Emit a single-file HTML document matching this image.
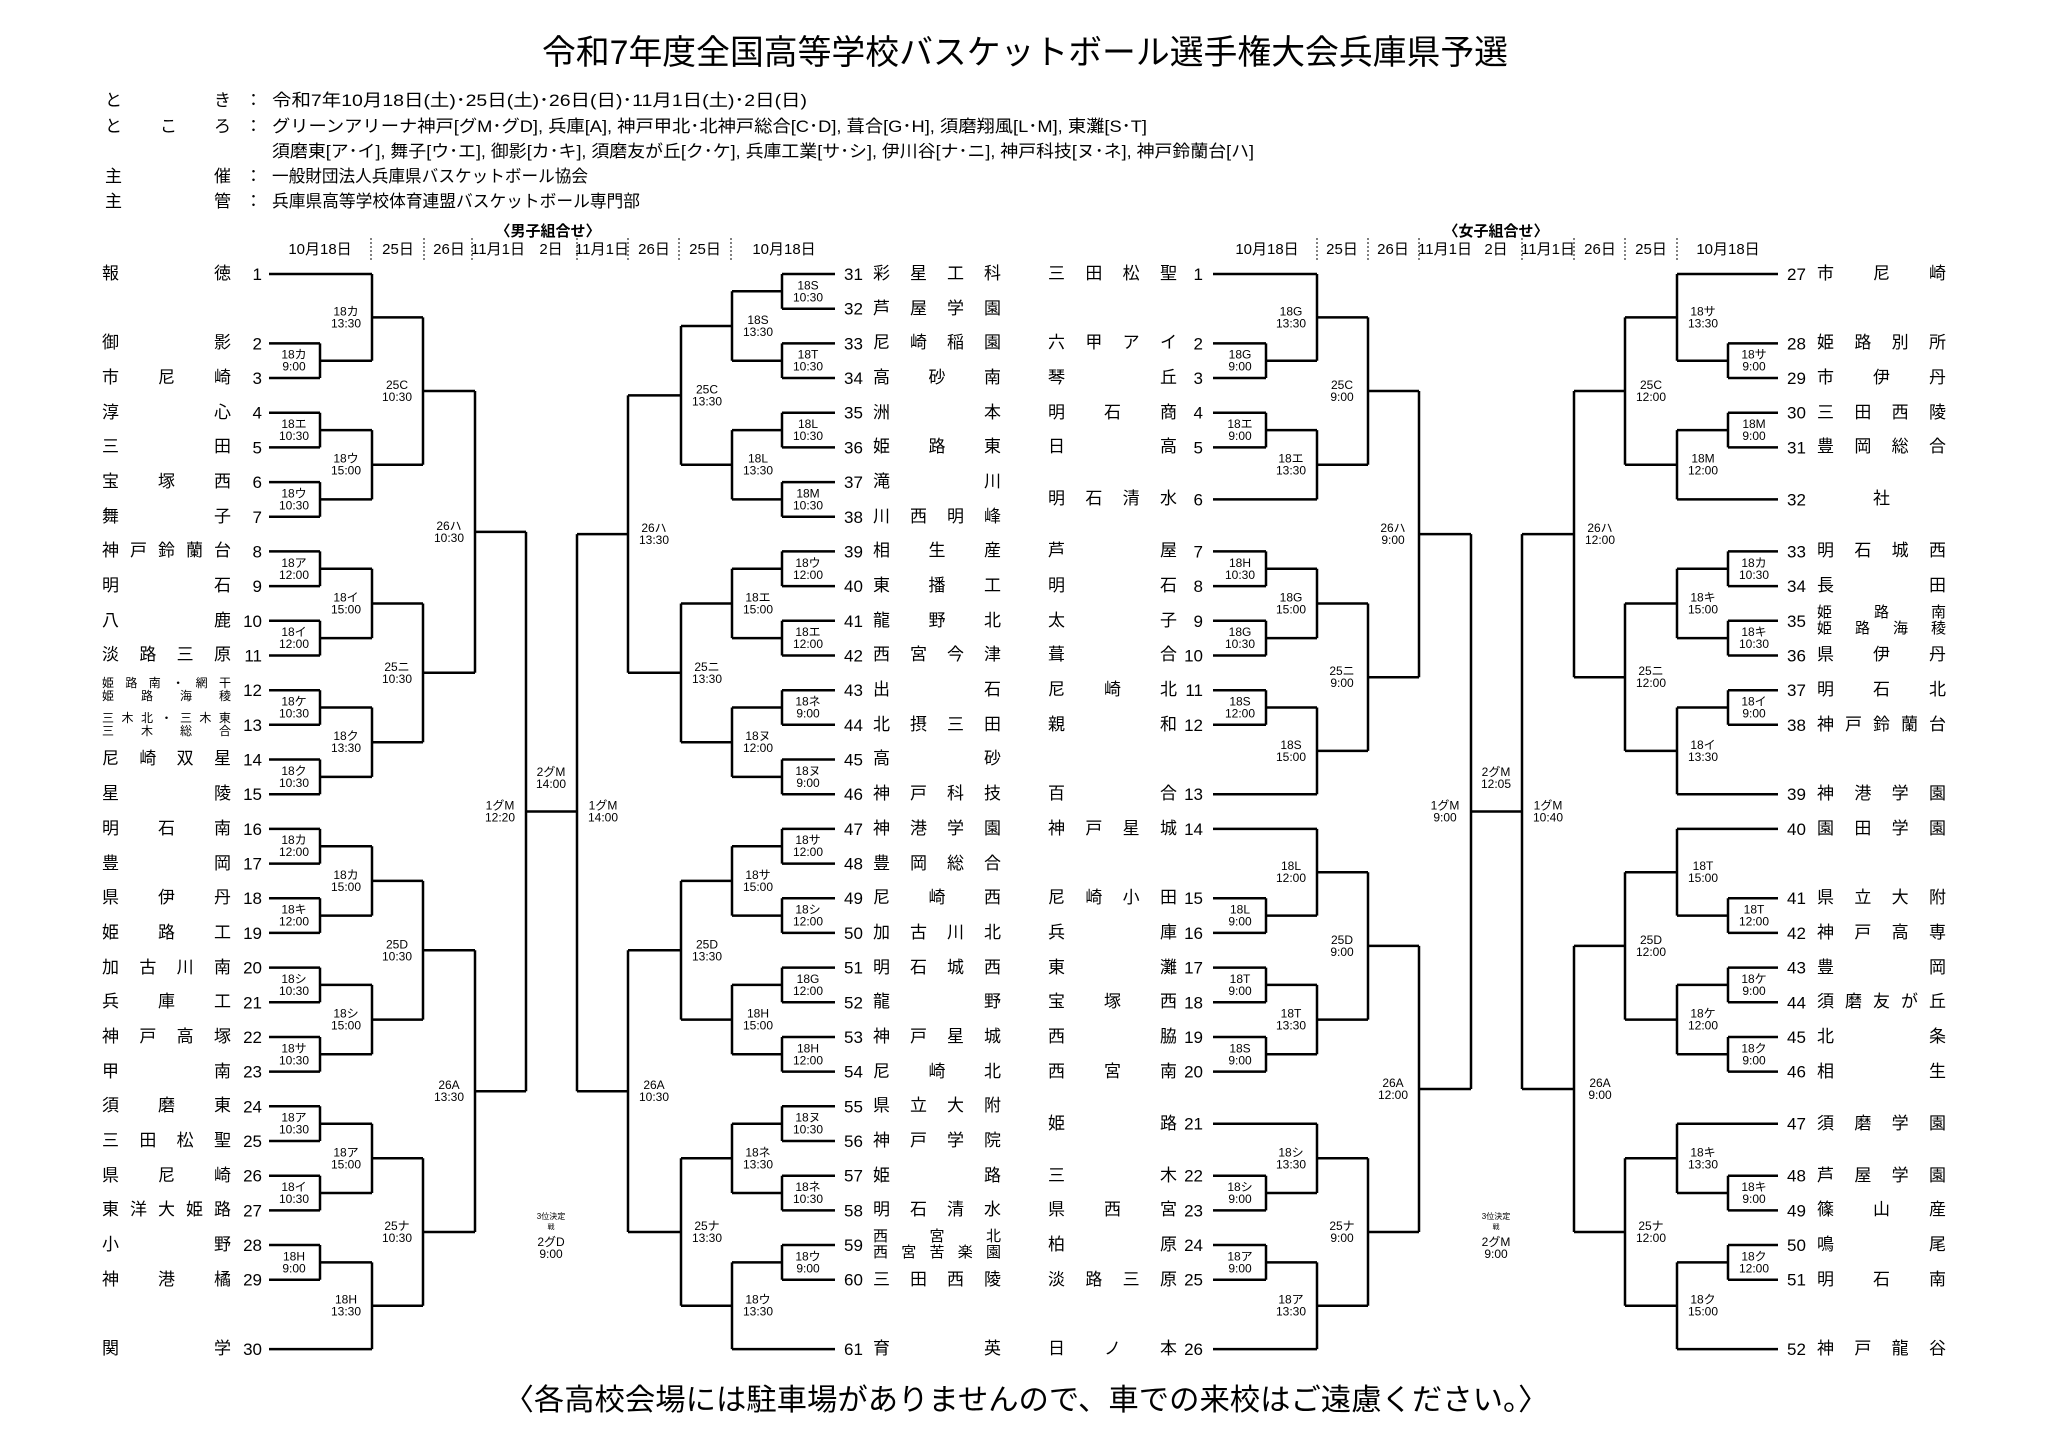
<!DOCTYPE html>
<html><head><meta charset="utf-8"><style>
body{margin:0;background:#fff;width:2048px;height:1449px;position:relative;overflow:hidden;font-family:"Liberation Sans","Noto Sans CJK JP",sans-serif;color:#000}
svg{position:absolute;left:0;top:0}
.n{position:absolute;display:flex;justify-content:space-between;font-size:17px;line-height:17px;height:17px;white-space:nowrap}
.c{justify-content:center}
.ml{left:102px;width:129px}.mr{left:873px;width:128px}.wl{left:1048px;width:129px}.wr{left:1817px;width:129px}
.n2{position:absolute;font-size:12px;line-height:13px}
.n2 div{display:flex;justify-content:space-between}
.w2{font-size:15px;line-height:16px}
.l{font-size:12px;text-anchor:middle}
.num{font-size:17px}
.e{text-anchor:end}
.d{font-size:15px;text-anchor:middle}
</style></head><body>
<svg width="2048" height="1449" viewBox="0 0 2048 1449" font-family="Liberation Sans, Noto Sans CJK JP, sans-serif">
<text x="1025" y="64" font-size="34" text-anchor="middle" textLength="966" lengthAdjust="spacingAndGlyphs">令和7年度全国高等学校バスケットボール選手権大会兵庫県予選</text>
<g font-size="17">
<text x="105" y="106">と</text><text x="214" y="106">き</text><text x="245" y="106">：</text>
<text x="272" y="106" textLength="535" lengthAdjust="spacingAndGlyphs">令和7年10月18日(土)･25日(土)･26日(日)･11月1日(土)･2日(日)</text>
<text x="105" y="132">と</text><text x="160" y="132">こ</text><text x="214" y="132">ろ</text><text x="245" y="132">：</text>
<text x="272" y="132" textLength="875" lengthAdjust="spacingAndGlyphs">グリーンアリーナ神戸[グM･グD], 兵庫[A], 神戸甲北･北神戸総合[C･D], 葺合[G･H], 須磨翔風[L･M], 東灘[S･T]</text>
<text x="272" y="157" textLength="982" lengthAdjust="spacingAndGlyphs">須磨東[ア･イ], 舞子[ウ･エ], 御影[カ･キ], 須磨友が丘[ク･ケ], 兵庫工業[サ･シ], 伊川谷[ナ･ニ], 神戸科技[ヌ･ネ], 神戸鈴蘭台[ハ]</text>
<text x="105" y="182">主</text><text x="214" y="182">催</text><text x="245" y="182">：</text>
<text x="272" y="182" textLength="316" lengthAdjust="spacingAndGlyphs">一般財団法人兵庫県バスケットボール協会</text>
<text x="105" y="207">主</text><text x="214" y="207">管</text><text x="245" y="207">：</text>
<text x="272" y="207" textLength="368" lengthAdjust="spacingAndGlyphs">兵庫県高等学校体育連盟バスケットボール専門部</text>
</g>
<text x="548" y="236" font-size="15" font-weight="bold" text-anchor="middle">〈男子組合せ〉</text>
<text x="1496" y="236" font-size="15" font-weight="bold" text-anchor="middle">〈女子組合せ〉</text>
<g class="d">
<text class="d" x="320" y="254">10月18日</text><text class="d" x="398" y="254">25日</text><text class="d" x="449" y="254">26日</text><text class="d" x="498" y="254">11月1日</text><text class="d" x="551" y="254">2日</text><text class="d" x="602" y="254">11月1日</text><text class="d" x="654" y="254">26日</text><text class="d" x="705" y="254">25日</text><text class="d" x="784" y="254">10月18日</text>
<text class="d" x="1267" y="254">10月18日</text><text class="d" x="1342" y="254">25日</text><text class="d" x="1393" y="254">26日</text><text class="d" x="1445" y="254">11月1日</text><text class="d" x="1496" y="254">2日</text><text class="d" x="1548" y="254">11月1日</text><text class="d" x="1600" y="254">26日</text><text class="d" x="1651" y="254">25日</text><text class="d" x="1728" y="254">10月18日</text>
</g>
<path stroke="#000" stroke-width="1" stroke-dasharray="2,2" d="M371 238V260M424 238V260M472 238V260M577 238V260M628 238V260M679 238V260M731 238V260M1317 238V260M1368 238V260M1419 238V260M1522 238V260M1574 238V260M1625 238V260M1677 238V260"/>

<g fill="none" stroke="#000" stroke-width="2.5">
<!-- men left -->
<path d="M269 274H372M269 343.4H320M269 378H320M269 412.7H320M269 447.4H320M269 482.1H320M269 516.8H320M269 551.4H320M269 586.1H320M269 620.8H320M269 655.5H320M269 690.2H320M269 724.8H320M269 759.5H320M269 794.2H320M269 828.9H320M269 863.6H320M269 898.2H320M269 932.9H320M269 967.6H320M269 1002.3H320M269 1037H320M269 1071.6H320M269 1106.3H320M269 1141H320M269 1175.7H320M269 1210.4H320M269 1245H320M269 1279.7H320M269 1349.1H372
M320 343.4V378M320 360.7H372M320 412.7V447.4M320 430.1H372M320 482.1V516.8M320 499.4H372M320 551.4V586.1M320 568.8H372M320 620.8V655.5M320 638.1H372M320 690.2V724.8M320 707.5H372M320 759.5V794.2M320 776.9H372M320 828.9V863.6M320 846.2H372M320 898.2V932.9M320 915.6H372M320 967.6V1002.3M320 984.9H372M320 1037V1071.6M320 1054.3H372M320 1106.3V1141M320 1123.7H372M320 1175.7V1210.4M320 1193H372M320 1245V1279.7M320 1262.4H372
M372 274V360.7M372 317.4H423M372 430.1V499.4M372 464.7H423M372 568.8V638.1M372 603.5H423M372 707.5V776.9M372 742.2H423M372 846.2V915.6M372 880.9H423M372 984.9V1054.3M372 1019.6H423M372 1123.7V1193M372 1158.3H423M372 1262.4V1349.1M372 1305.7H423
M423 317.4V464.7M423 391H475M423 603.5V742.2M423 672.8H475M423 880.9V1019.6M423 950.3H475M423 1158.3V1305.7M423 1232H475
M475 391V672.8M475 531.9H526M475 950.3V1232M475 1091.2H526
M526 531.9V1091.2M526 811.5H577"/>
<!-- men right -->
<path d="M835 274H782M835 308.7H782M835 343.4H782M835 378H782M835 412.7H782M835 447.4H782M835 482.1H782M835 516.8H782M835 551.4H782M835 586.1H782M835 620.8H782M835 655.5H782M835 690.2H782M835 724.8H782M835 759.5H782M835 794.2H782M835 828.9H782M835 863.6H782M835 898.2H782M835 932.9H782M835 967.6H782M835 1002.3H782M835 1037H782M835 1071.6H782M835 1106.3H782M835 1141H782M835 1175.7H782M835 1210.4H782M835 1245H782M835 1279.7H782M835 1349.1H732
M782 274V308.7M782 291.3H732M782 343.4V378M782 360.7H732M782 412.7V447.4M782 430.1H732M782 482.1V516.8M782 499.4H732M782 551.4V586.1M782 568.8H732M782 620.8V655.5M782 638.1H732M782 690.2V724.8M782 707.5H732M782 759.5V794.2M782 776.9H732M782 828.9V863.6M782 846.2H732M782 898.2V932.9M782 915.6H732M782 967.6V1002.3M782 984.9H732M782 1037V1071.6M782 1054.3H732M782 1106.3V1141M782 1123.7H732M782 1175.7V1210.4M782 1193H732M782 1245V1279.7M782 1262.4H732
M732 291.3V360.7M732 326H681M732 430.1V499.4M732 464.7H681M732 568.8V638.1M732 603.5H681M732 707.5V776.9M732 742.2H681M732 846.2V915.6M732 880.9H681M732 984.9V1054.3M732 1019.6H681M732 1123.7V1193M732 1158.3H681M732 1262.4V1349.1M732 1305.7H681
M681 326V464.7M681 395.4H628M681 603.5V742.2M681 672.8H628M681 880.9V1019.6M681 950.3H628M681 1158.3V1305.7M681 1232H628
M628 395.4V672.8M628 534.1H577M628 950.3V1232M628 1091.2H577
M577 534.1V1091.2"/>
<!-- women left -->
<path d="M1213 274H1317M1213 343.4H1266M1213 378H1266M1213 412.7H1266M1213 447.4H1266M1213 499.4H1317M1213 551.4H1266M1213 586.1H1266M1213 620.8H1266M1213 655.5H1266M1213 690.2H1266M1213 724.8H1266M1213 794.2H1317M1213 828.9H1317M1213 898.2H1266M1213 932.9H1266M1213 967.6H1266M1213 1002.3H1266M1213 1037H1266M1213 1071.6H1266M1213 1123.7H1317M1213 1175.7H1266M1213 1210.4H1266M1213 1245H1266M1213 1279.7H1266M1213 1349.1H1317
M1266 343.4V378M1266 360.7H1317M1266 412.7V447.4M1266 430.1H1317M1266 551.4V586.1M1266 568.8H1317M1266 620.8V655.5M1266 638.1H1317M1266 690.2V724.8M1266 707.5H1317M1266 898.2V932.9M1266 915.6H1317M1266 967.6V1002.3M1266 984.9H1317M1266 1037V1071.6M1266 1054.3H1317M1266 1175.7V1210.4M1266 1193H1317M1266 1245V1279.7M1266 1262.4H1317
M1317 274V360.7M1317 317.4H1368M1317 430.1V499.4M1317 464.7H1368M1317 568.8V638.1M1317 603.5H1368M1317 707.5V794.2M1317 750.9H1368M1317 828.9V915.6M1317 872.2H1368M1317 984.9V1054.3M1317 1019.6H1368M1317 1123.7V1193M1317 1158.3H1368M1317 1262.4V1349.1M1317 1305.7H1368
M1368 317.4V464.7M1368 391H1419M1368 603.5V750.9M1368 677.2H1419M1368 872.2V1019.6M1368 945.9H1419M1368 1158.3V1305.7M1368 1232H1419
M1419 391V677.2M1419 534.1H1471M1419 945.9V1232M1419 1089H1471
M1471 534.1V1089M1471 811.5H1522"/>
<!-- women right -->
<path d="M1778 274H1677M1778 343.4H1728M1778 378H1728M1778 412.7H1728M1778 447.4H1728M1778 499.4H1677M1778 551.4H1728M1778 586.1H1728M1778 620.8H1728M1778 655.5H1728M1778 690.2H1728M1778 724.8H1728M1778 794.2H1677M1778 828.9H1677M1778 898.2H1728M1778 932.9H1728M1778 967.6H1728M1778 1002.3H1728M1778 1037H1728M1778 1071.6H1728M1778 1123.7H1677M1778 1175.7H1728M1778 1210.4H1728M1778 1245H1728M1778 1279.7H1728M1778 1349.1H1677
M1728 343.4V378M1728 360.7H1677M1728 412.7V447.4M1728 430.1H1677M1728 551.4V586.1M1728 568.8H1677M1728 620.8V655.5M1728 638.1H1677M1728 690.2V724.8M1728 707.5H1677M1728 898.2V932.9M1728 915.6H1677M1728 967.6V1002.3M1728 984.9H1677M1728 1037V1071.6M1728 1054.3H1677M1728 1175.7V1210.4M1728 1193H1677M1728 1245V1279.7M1728 1262.4H1677
M1677 274V360.7M1677 317.4H1625M1677 430.1V499.4M1677 464.7H1625M1677 568.8V638.1M1677 603.5H1625M1677 707.5V794.2M1677 750.9H1625M1677 828.9V915.6M1677 872.2H1625M1677 984.9V1054.3M1677 1019.6H1625M1677 1123.7V1193M1677 1158.3H1625M1677 1262.4V1349.1M1677 1305.7H1625
M1625 317.4V464.7M1625 391H1574M1625 603.5V750.9M1625 677.2H1574M1625 872.2V1019.6M1625 945.9H1574M1625 1158.3V1305.7M1625 1232H1574
M1574 391V677.2M1574 534.1H1522M1574 945.9V1232M1574 1089H1522
M1522 534.1V1089"/>
</g>

<!-- numbers -->
<g class="num">
<g text-anchor="end">
<text x="262" y="280">1</text><text x="262" y="349.4">2</text><text x="262" y="384">3</text><text x="262" y="418.7">4</text><text x="262" y="453.4">5</text><text x="262" y="488.1">6</text><text x="262" y="522.8">7</text><text x="262" y="557.4">8</text><text x="262" y="592.1">9</text><text x="262" y="626.8">10</text><text x="262" y="661.5">11</text><text x="262" y="696.2">12</text><text x="262" y="730.8">13</text><text x="262" y="765.5">14</text><text x="262" y="800.2">15</text><text x="262" y="834.9">16</text><text x="262" y="869.6">17</text><text x="262" y="904.2">18</text><text x="262" y="938.9">19</text><text x="262" y="973.6">20</text><text x="262" y="1008.3">21</text><text x="262" y="1043">22</text><text x="262" y="1077.6">23</text><text x="262" y="1112.3">24</text><text x="262" y="1147">25</text><text x="262" y="1181.7">26</text><text x="262" y="1216.4">27</text><text x="262" y="1251">28</text><text x="262" y="1285.7">29</text><text x="262" y="1355.1">30</text>
<text x="1203" y="280">1</text><text x="1203" y="349.4">2</text><text x="1203" y="384">3</text><text x="1203" y="418.7">4</text><text x="1203" y="453.4">5</text><text x="1203" y="505.4">6</text><text x="1203" y="557.4">7</text><text x="1203" y="592.1">8</text><text x="1203" y="626.8">9</text><text x="1203" y="661.5">10</text><text x="1203" y="696.2">11</text><text x="1203" y="730.8">12</text><text x="1203" y="800.2">13</text><text x="1203" y="834.9">14</text><text x="1203" y="904.2">15</text><text x="1203" y="938.9">16</text><text x="1203" y="973.6">17</text><text x="1203" y="1008.3">18</text><text x="1203" y="1043">19</text><text x="1203" y="1077.6">20</text><text x="1203" y="1129.7">21</text><text x="1203" y="1181.7">22</text><text x="1203" y="1216.4">23</text><text x="1203" y="1251">24</text><text x="1203" y="1285.7">25</text><text x="1203" y="1355.1">26</text>
</g>
<text x="844" y="280">31</text><text x="844" y="314.7">32</text><text x="844" y="349.4">33</text><text x="844" y="384">34</text><text x="844" y="418.7">35</text><text x="844" y="453.4">36</text><text x="844" y="488.1">37</text><text x="844" y="522.8">38</text><text x="844" y="557.4">39</text><text x="844" y="592.1">40</text><text x="844" y="626.8">41</text><text x="844" y="661.5">42</text><text x="844" y="696.2">43</text><text x="844" y="730.8">44</text><text x="844" y="765.5">45</text><text x="844" y="800.2">46</text><text x="844" y="834.9">47</text><text x="844" y="869.6">48</text><text x="844" y="904.2">49</text><text x="844" y="938.9">50</text><text x="844" y="973.6">51</text><text x="844" y="1008.3">52</text><text x="844" y="1043">53</text><text x="844" y="1077.6">54</text><text x="844" y="1112.3">55</text><text x="844" y="1147">56</text><text x="844" y="1181.7">57</text><text x="844" y="1216.4">58</text><text x="844" y="1251">59</text><text x="844" y="1285.7">60</text><text x="844" y="1355.1">61</text>
<text x="1787" y="280">27</text><text x="1787" y="349.4">28</text><text x="1787" y="384">29</text><text x="1787" y="418.7">30</text><text x="1787" y="453.4">31</text><text x="1787" y="505.4">32</text><text x="1787" y="557.4">33</text><text x="1787" y="592.1">34</text><text x="1787" y="626.8">35</text><text x="1787" y="661.5">36</text><text x="1787" y="696.2">37</text><text x="1787" y="730.8">38</text><text x="1787" y="800.2">39</text><text x="1787" y="834.9">40</text><text x="1787" y="904.2">41</text><text x="1787" y="938.9">42</text><text x="1787" y="973.6">43</text><text x="1787" y="1008.3">44</text><text x="1787" y="1043">45</text><text x="1787" y="1077.6">46</text><text x="1787" y="1129.7">47</text><text x="1787" y="1181.7">48</text><text x="1787" y="1216.4">49</text><text x="1787" y="1251">50</text><text x="1787" y="1285.7">51</text><text x="1787" y="1355.1">52</text>
</g>

<!-- labels men left -->
<g>
<text class="l" x="294" y="358.7">18カ<tspan x="294" dy="12">9:00</tspan></text>
<text class="l" x="294" y="428.1">18エ<tspan x="294" dy="12">10:30</tspan></text>
<text class="l" x="294" y="497.4">18ウ<tspan x="294" dy="12">10:30</tspan></text>
<text class="l" x="294" y="566.8">18ア<tspan x="294" dy="12">12:00</tspan></text>
<text class="l" x="294" y="636.1">18イ<tspan x="294" dy="12">12:00</tspan></text>
<text class="l" x="294" y="705.5">18ケ<tspan x="294" dy="12">10:30</tspan></text>
<text class="l" x="294" y="774.9">18ク<tspan x="294" dy="12">10:30</tspan></text>
<text class="l" x="294" y="844.2">18カ<tspan x="294" dy="12">12:00</tspan></text>
<text class="l" x="294" y="913.6">18キ<tspan x="294" dy="12">12:00</tspan></text>
<text class="l" x="294" y="982.9">18シ<tspan x="294" dy="12">10:30</tspan></text>
<text class="l" x="294" y="1052.3">18サ<tspan x="294" dy="12">10:30</tspan></text>
<text class="l" x="294" y="1121.7">18ア<tspan x="294" dy="12">10:30</tspan></text>
<text class="l" x="294" y="1191">18イ<tspan x="294" dy="12">10:30</tspan></text>
<text class="l" x="294" y="1260.4">18H<tspan x="294" dy="12">9:00</tspan></text>
<text class="l" x="346" y="315.4">18カ<tspan x="346" dy="12">13:30</tspan></text>
<text class="l" x="346" y="462.7">18ウ<tspan x="346" dy="12">15:00</tspan></text>
<text class="l" x="346" y="601.5">18イ<tspan x="346" dy="12">15:00</tspan></text>
<text class="l" x="346" y="740.2">18ク<tspan x="346" dy="12">13:30</tspan></text>
<text class="l" x="346" y="878.9">18カ<tspan x="346" dy="12">15:00</tspan></text>
<text class="l" x="346" y="1017.6">18シ<tspan x="346" dy="12">15:00</tspan></text>
<text class="l" x="346" y="1156.3">18ア<tspan x="346" dy="12">15:00</tspan></text>
<text class="l" x="346" y="1303.7">18H<tspan x="346" dy="12">13:30</tspan></text>
<text class="l" x="397" y="389">25C<tspan x="397" dy="12">10:30</tspan></text>
<text class="l" x="397" y="670.8">25ニ<tspan x="397" dy="12">10:30</tspan></text>
<text class="l" x="397" y="948.3">25D<tspan x="397" dy="12">10:30</tspan></text>
<text class="l" x="397" y="1230">25ナ<tspan x="397" dy="12">10:30</tspan></text>
<text class="l" x="449" y="529.9">26ハ<tspan x="449" dy="12">10:30</tspan></text>
<text class="l" x="449" y="1089.2">26A<tspan x="449" dy="12">13:30</tspan></text>
<text class="l" x="500" y="809.5">1グM<tspan x="500" dy="12">12:20</tspan></text>
<text class="l" x="551" y="776">2グM<tspan x="551" dy="12">14:00</tspan></text>
<text class="l" x="603" y="809.5">1グM<tspan x="603" dy="12">14:00</tspan></text>
<!-- men right -->
<text class="l" x="808" y="289.3">18S<tspan x="808" dy="12">10:30</tspan></text>
<text class="l" x="808" y="358.7">18T<tspan x="808" dy="12">10:30</tspan></text>
<text class="l" x="808" y="428.1">18L<tspan x="808" dy="12">10:30</tspan></text>
<text class="l" x="808" y="497.4">18M<tspan x="808" dy="12">10:30</tspan></text>
<text class="l" x="808" y="566.8">18ウ<tspan x="808" dy="12">12:00</tspan></text>
<text class="l" x="808" y="636.1">18エ<tspan x="808" dy="12">12:00</tspan></text>
<text class="l" x="808" y="705.5">18ネ<tspan x="808" dy="12">9:00</tspan></text>
<text class="l" x="808" y="774.9">18ヌ<tspan x="808" dy="12">9:00</tspan></text>
<text class="l" x="808" y="844.2">18サ<tspan x="808" dy="12">12:00</tspan></text>
<text class="l" x="808" y="913.6">18シ<tspan x="808" dy="12">12:00</tspan></text>
<text class="l" x="808" y="982.9">18G<tspan x="808" dy="12">12:00</tspan></text>
<text class="l" x="808" y="1052.3">18H<tspan x="808" dy="12">12:00</tspan></text>
<text class="l" x="808" y="1121.7">18ヌ<tspan x="808" dy="12">10:30</tspan></text>
<text class="l" x="808" y="1191">18ネ<tspan x="808" dy="12">10:30</tspan></text>
<text class="l" x="808" y="1260.4">18ウ<tspan x="808" dy="12">9:00</tspan></text>
<text class="l" x="758" y="324">18S<tspan x="758" dy="12">13:30</tspan></text>
<text class="l" x="758" y="462.7">18L<tspan x="758" dy="12">13:30</tspan></text>
<text class="l" x="758" y="601.5">18エ<tspan x="758" dy="12">15:00</tspan></text>
<text class="l" x="758" y="740.2">18ヌ<tspan x="758" dy="12">12:00</tspan></text>
<text class="l" x="758" y="878.9">18サ<tspan x="758" dy="12">15:00</tspan></text>
<text class="l" x="758" y="1017.6">18H<tspan x="758" dy="12">15:00</tspan></text>
<text class="l" x="758" y="1156.3">18ネ<tspan x="758" dy="12">13:30</tspan></text>
<text class="l" x="758" y="1303.7">18ウ<tspan x="758" dy="12">13:30</tspan></text>
<text class="l" x="707" y="393.4">25C<tspan x="707" dy="12">13:30</tspan></text>
<text class="l" x="707" y="670.8">25ニ<tspan x="707" dy="12">13:30</tspan></text>
<text class="l" x="707" y="948.3">25D<tspan x="707" dy="12">13:30</tspan></text>
<text class="l" x="707" y="1230">25ナ<tspan x="707" dy="12">13:30</tspan></text>
<text class="l" x="654" y="532.1">26ハ<tspan x="654" dy="12">13:30</tspan></text>
<text class="l" x="654" y="1089.2">26A<tspan x="654" dy="12">10:30</tspan></text>
<text x="551" y="1219" font-size="8" text-anchor="middle">3位決定</text>
<text x="551" y="1229" font-size="7" text-anchor="middle">戦</text>
<text class="l" x="551" y="1246">2グD<tspan x="551" dy="12">9:00</tspan></text>
<!-- women left -->
<text class="l" x="1240" y="358.7">18G<tspan x="1240" dy="12">9:00</tspan></text>
<text class="l" x="1240" y="428.1">18エ<tspan x="1240" dy="12">9:00</tspan></text>
<text class="l" x="1240" y="566.8">18H<tspan x="1240" dy="12">10:30</tspan></text>
<text class="l" x="1240" y="636.1">18G<tspan x="1240" dy="12">10:30</tspan></text>
<text class="l" x="1240" y="705.5">18S<tspan x="1240" dy="12">12:00</tspan></text>
<text class="l" x="1240" y="913.6">18L<tspan x="1240" dy="12">9:00</tspan></text>
<text class="l" x="1240" y="982.9">18T<tspan x="1240" dy="12">9:00</tspan></text>
<text class="l" x="1240" y="1052.3">18S<tspan x="1240" dy="12">9:00</tspan></text>
<text class="l" x="1240" y="1191">18シ<tspan x="1240" dy="12">9:00</tspan></text>
<text class="l" x="1240" y="1260.4">18ア<tspan x="1240" dy="12">9:00</tspan></text>
<text class="l" x="1291" y="315.4">18G<tspan x="1291" dy="12">13:30</tspan></text>
<text class="l" x="1291" y="462.7">18エ<tspan x="1291" dy="12">13:30</tspan></text>
<text class="l" x="1291" y="601.5">18G<tspan x="1291" dy="12">15:00</tspan></text>
<text class="l" x="1291" y="748.9">18S<tspan x="1291" dy="12">15:00</tspan></text>
<text class="l" x="1291" y="870.2">18L<tspan x="1291" dy="12">12:00</tspan></text>
<text class="l" x="1291" y="1017.6">18T<tspan x="1291" dy="12">13:30</tspan></text>
<text class="l" x="1291" y="1156.3">18シ<tspan x="1291" dy="12">13:30</tspan></text>
<text class="l" x="1291" y="1303.7">18ア<tspan x="1291" dy="12">13:30</tspan></text>
<text class="l" x="1342" y="389">25C<tspan x="1342" dy="12">9:00</tspan></text>
<text class="l" x="1342" y="675.2">25ニ<tspan x="1342" dy="12">9:00</tspan></text>
<text class="l" x="1342" y="943.9">25D<tspan x="1342" dy="12">9:00</tspan></text>
<text class="l" x="1342" y="1230">25ナ<tspan x="1342" dy="12">9:00</tspan></text>
<text class="l" x="1393" y="532.1">26ハ<tspan x="1393" dy="12">9:00</tspan></text>
<text class="l" x="1393" y="1087">26A<tspan x="1393" dy="12">12:00</tspan></text>
<text class="l" x="1445" y="809.5">1グM<tspan x="1445" dy="12">9:00</tspan></text>
<text class="l" x="1496" y="776">2グM<tspan x="1496" dy="12">12:05</tspan></text>
<text class="l" x="1548" y="809.5">1グM<tspan x="1548" dy="12">10:40</tspan></text>
<!-- women right -->
<text class="l" x="1754" y="358.7">18サ<tspan x="1754" dy="12">9:00</tspan></text>
<text class="l" x="1754" y="428.1">18M<tspan x="1754" dy="12">9:00</tspan></text>
<text class="l" x="1754" y="566.8">18カ<tspan x="1754" dy="12">10:30</tspan></text>
<text class="l" x="1754" y="636.1">18キ<tspan x="1754" dy="12">10:30</tspan></text>
<text class="l" x="1754" y="705.5">18イ<tspan x="1754" dy="12">9:00</tspan></text>
<text class="l" x="1754" y="913.6">18T<tspan x="1754" dy="12">12:00</tspan></text>
<text class="l" x="1754" y="982.9">18ケ<tspan x="1754" dy="12">9:00</tspan></text>
<text class="l" x="1754" y="1052.3">18ク<tspan x="1754" dy="12">9:00</tspan></text>
<text class="l" x="1754" y="1191">18キ<tspan x="1754" dy="12">9:00</tspan></text>
<text class="l" x="1754" y="1260.4">18ク<tspan x="1754" dy="12">12:00</tspan></text>
<text class="l" x="1703" y="315.4">18サ<tspan x="1703" dy="12">13:30</tspan></text>
<text class="l" x="1703" y="462.7">18M<tspan x="1703" dy="12">12:00</tspan></text>
<text class="l" x="1703" y="601.5">18キ<tspan x="1703" dy="12">15:00</tspan></text>
<text class="l" x="1703" y="748.9">18イ<tspan x="1703" dy="12">13:30</tspan></text>
<text class="l" x="1703" y="870.2">18T<tspan x="1703" dy="12">15:00</tspan></text>
<text class="l" x="1703" y="1017.6">18ケ<tspan x="1703" dy="12">12:00</tspan></text>
<text class="l" x="1703" y="1156.3">18キ<tspan x="1703" dy="12">13:30</tspan></text>
<text class="l" x="1703" y="1303.7">18ク<tspan x="1703" dy="12">15:00</tspan></text>
<text class="l" x="1651" y="389">25C<tspan x="1651" dy="12">12:00</tspan></text>
<text class="l" x="1651" y="675.2">25ニ<tspan x="1651" dy="12">12:00</tspan></text>
<text class="l" x="1651" y="943.9">25D<tspan x="1651" dy="12">12:00</tspan></text>
<text class="l" x="1651" y="1230">25ナ<tspan x="1651" dy="12">12:00</tspan></text>
<text class="l" x="1600" y="532.1">26ハ<tspan x="1600" dy="12">12:00</tspan></text>
<text class="l" x="1600" y="1087">26A<tspan x="1600" dy="12">9:00</tspan></text>
<text x="1496" y="1219" font-size="8" text-anchor="middle">3位決定</text>
<text x="1496" y="1229" font-size="7" text-anchor="middle">戦</text>
<text class="l" x="1496" y="1246">2グM<tspan x="1496" dy="12">9:00</tspan></text>
</g>
<text x="1026" y="1410" font-size="30" text-anchor="middle" textLength="1045" lengthAdjust="spacingAndGlyphs">〈各高校会場には駐車場がありませんので、車での来校はご遠慮ください。〉</text>
</svg>

<!-- men left names -->
<div class="n ml" style="top:265px"><span>報</span><span>徳</span></div>
<div class="n ml" style="top:334px"><span>御</span><span>影</span></div>
<div class="n ml" style="top:369px"><span>市</span><span>尼</span><span>崎</span></div>
<div class="n ml" style="top:404px"><span>淳</span><span>心</span></div>
<div class="n ml" style="top:438px"><span>三</span><span>田</span></div>
<div class="n ml" style="top:473px"><span>宝</span><span>塚</span><span>西</span></div>
<div class="n ml" style="top:508px"><span>舞</span><span>子</span></div>
<div class="n ml" style="top:542px"><span>神</span><span>戸</span><span>鈴</span><span>蘭</span><span>台</span></div>
<div class="n ml" style="top:577px"><span>明</span><span>石</span></div>
<div class="n ml" style="top:612px"><span>八</span><span>鹿</span></div>
<div class="n ml" style="top:646px"><span>淡</span><span>路</span><span>三</span><span>原</span></div>
<div class="n2 ml" style="top:677px"><div><span>姫</span><span>路</span><span>南</span><span>・</span><span>網</span><span>干</span></div><div><span>姫</span><span>路</span><span>海</span><span>稜</span></div></div>
<div class="n2 ml" style="top:712px"><div><span>三</span><span>木</span><span>北</span><span>・</span><span>三</span><span>木</span><span>東</span></div><div><span>三</span><span>木</span><span>総</span><span>合</span></div></div>
<div class="n ml" style="top:750px"><span>尼</span><span>崎</span><span>双</span><span>星</span></div>
<div class="n ml" style="top:785px"><span>星</span><span>陵</span></div>
<div class="n ml" style="top:820px"><span>明</span><span>石</span><span>南</span></div>
<div class="n ml" style="top:855px"><span>豊</span><span>岡</span></div>
<div class="n ml" style="top:889px"><span>県</span><span>伊</span><span>丹</span></div>
<div class="n ml" style="top:924px"><span>姫</span><span>路</span><span>工</span></div>
<div class="n ml" style="top:959px"><span>加</span><span>古</span><span>川</span><span>南</span></div>
<div class="n ml" style="top:993px"><span>兵</span><span>庫</span><span>工</span></div>
<div class="n ml" style="top:1028px"><span>神</span><span>戸</span><span>高</span><span>塚</span></div>
<div class="n ml" style="top:1063px"><span>甲</span><span>南</span></div>
<div class="n ml" style="top:1097px"><span>須</span><span>磨</span><span>東</span></div>
<div class="n ml" style="top:1132px"><span>三</span><span>田</span><span>松</span><span>聖</span></div>
<div class="n ml" style="top:1167px"><span>県</span><span>尼</span><span>崎</span></div>
<div class="n ml" style="top:1201px"><span>東</span><span>洋</span><span>大</span><span>姫</span><span>路</span></div>
<div class="n ml" style="top:1236px"><span>小</span><span>野</span></div>
<div class="n ml" style="top:1271px"><span>神</span><span>港</span><span>橘</span></div>
<div class="n ml" style="top:1340px"><span>関</span><span>学</span></div>

<!-- men right names -->
<div class="n mr" style="top:265px"><span>彩</span><span>星</span><span>工</span><span>科</span></div>
<div class="n mr" style="top:300px"><span>芦</span><span>屋</span><span>学</span><span>園</span></div>
<div class="n mr" style="top:334px"><span>尼</span><span>崎</span><span>稲</span><span>園</span></div>
<div class="n mr" style="top:369px"><span>高</span><span>砂</span><span>南</span></div>
<div class="n mr" style="top:404px"><span>洲</span><span>本</span></div>
<div class="n mr" style="top:438px"><span>姫</span><span>路</span><span>東</span></div>
<div class="n mr" style="top:473px"><span>滝</span><span>川</span></div>
<div class="n mr" style="top:508px"><span>川</span><span>西</span><span>明</span><span>峰</span></div>
<div class="n mr" style="top:542px"><span>相</span><span>生</span><span>産</span></div>
<div class="n mr" style="top:577px"><span>東</span><span>播</span><span>工</span></div>
<div class="n mr" style="top:612px"><span>龍</span><span>野</span><span>北</span></div>
<div class="n mr" style="top:646px"><span>西</span><span>宮</span><span>今</span><span>津</span></div>
<div class="n mr" style="top:681px"><span>出</span><span>石</span></div>
<div class="n mr" style="top:716px"><span>北</span><span>摂</span><span>三</span><span>田</span></div>
<div class="n mr" style="top:750px"><span>高</span><span>砂</span></div>
<div class="n mr" style="top:785px"><span>神</span><span>戸</span><span>科</span><span>技</span></div>
<div class="n mr" style="top:820px"><span>神</span><span>港</span><span>学</span><span>園</span></div>
<div class="n mr" style="top:855px"><span>豊</span><span>岡</span><span>総</span><span>合</span></div>
<div class="n mr" style="top:889px"><span>尼</span><span>崎</span><span>西</span></div>
<div class="n mr" style="top:924px"><span>加</span><span>古</span><span>川</span><span>北</span></div>
<div class="n mr" style="top:959px"><span>明</span><span>石</span><span>城</span><span>西</span></div>
<div class="n mr" style="top:993px"><span>龍</span><span>野</span></div>
<div class="n mr" style="top:1028px"><span>神</span><span>戸</span><span>星</span><span>城</span></div>
<div class="n mr" style="top:1063px"><span>尼</span><span>崎</span><span>北</span></div>
<div class="n mr" style="top:1097px"><span>県</span><span>立</span><span>大</span><span>附</span></div>
<div class="n mr" style="top:1132px"><span>神</span><span>戸</span><span>学</span><span>院</span></div>
<div class="n mr" style="top:1167px"><span>姫</span><span>路</span></div>
<div class="n mr" style="top:1201px"><span>明</span><span>石</span><span>清</span><span>水</span></div>
<div class="n2 mr w2" style="top:1229px"><div><span>西</span><span>宮</span><span>北</span></div><div><span>西</span><span>宮</span><span>苦</span><span>楽</span><span>園</span></div></div>
<div class="n mr" style="top:1271px"><span>三</span><span>田</span><span>西</span><span>陵</span></div>
<div class="n mr" style="top:1340px"><span>育</span><span>英</span></div>

<!-- women left names -->
<div class="n wl" style="top:265px"><span>三</span><span>田</span><span>松</span><span>聖</span></div>
<div class="n wl" style="top:334px"><span>六</span><span>甲</span><span>ア</span><span>イ</span></div>
<div class="n wl" style="top:369px"><span>琴</span><span>丘</span></div>
<div class="n wl" style="top:404px"><span>明</span><span>石</span><span>商</span></div>
<div class="n wl" style="top:438px"><span>日</span><span>高</span></div>
<div class="n wl" style="top:490px"><span>明</span><span>石</span><span>清</span><span>水</span></div>
<div class="n wl" style="top:542px"><span>芦</span><span>屋</span></div>
<div class="n wl" style="top:577px"><span>明</span><span>石</span></div>
<div class="n wl" style="top:612px"><span>太</span><span>子</span></div>
<div class="n wl" style="top:646px"><span>葺</span><span>合</span></div>
<div class="n wl" style="top:681px"><span>尼</span><span>崎</span><span>北</span></div>
<div class="n wl" style="top:716px"><span>親</span><span>和</span></div>
<div class="n wl" style="top:785px"><span>百</span><span>合</span></div>
<div class="n wl" style="top:820px"><span>神</span><span>戸</span><span>星</span><span>城</span></div>
<div class="n wl" style="top:889px"><span>尼</span><span>崎</span><span>小</span><span>田</span></div>
<div class="n wl" style="top:924px"><span>兵</span><span>庫</span></div>
<div class="n wl" style="top:959px"><span>東</span><span>灘</span></div>
<div class="n wl" style="top:993px"><span>宝</span><span>塚</span><span>西</span></div>
<div class="n wl" style="top:1028px"><span>西</span><span>脇</span></div>
<div class="n wl" style="top:1063px"><span>西</span><span>宮</span><span>南</span></div>
<div class="n wl" style="top:1115px"><span>姫</span><span>路</span></div>
<div class="n wl" style="top:1167px"><span>三</span><span>木</span></div>
<div class="n wl" style="top:1201px"><span>県</span><span>西</span><span>宮</span></div>
<div class="n wl" style="top:1236px"><span>柏</span><span>原</span></div>
<div class="n wl" style="top:1271px"><span>淡</span><span>路</span><span>三</span><span>原</span></div>
<div class="n wl" style="top:1340px"><span>日</span><span>ノ</span><span>本</span></div>

<!-- women right names -->
<div class="n wr" style="top:265px"><span>市</span><span>尼</span><span>崎</span></div>
<div class="n wr" style="top:334px"><span>姫</span><span>路</span><span>別</span><span>所</span></div>
<div class="n wr" style="top:369px"><span>市</span><span>伊</span><span>丹</span></div>
<div class="n wr" style="top:404px"><span>三</span><span>田</span><span>西</span><span>陵</span></div>
<div class="n wr" style="top:438px"><span>豊</span><span>岡</span><span>総</span><span>合</span></div>
<div class="n wr c" style="top:490px"><span>社</span></div>
<div class="n wr" style="top:542px"><span>明</span><span>石</span><span>城</span><span>西</span></div>
<div class="n wr" style="top:577px"><span>長</span><span>田</span></div>
<div class="n2 wr w2" style="top:605px"><div><span>姫</span><span>路</span><span>南</span></div><div><span>姫</span><span>路</span><span>海</span><span>稜</span></div></div>
<div class="n wr" style="top:646px"><span>県</span><span>伊</span><span>丹</span></div>
<div class="n wr" style="top:681px"><span>明</span><span>石</span><span>北</span></div>
<div class="n wr" style="top:716px"><span>神</span><span>戸</span><span>鈴</span><span>蘭</span><span>台</span></div>
<div class="n wr" style="top:785px"><span>神</span><span>港</span><span>学</span><span>園</span></div>
<div class="n wr" style="top:820px"><span>園</span><span>田</span><span>学</span><span>園</span></div>
<div class="n wr" style="top:889px"><span>県</span><span>立</span><span>大</span><span>附</span></div>
<div class="n wr" style="top:924px"><span>神</span><span>戸</span><span>高</span><span>専</span></div>
<div class="n wr" style="top:959px"><span>豊</span><span>岡</span></div>
<div class="n wr" style="top:993px"><span>須</span><span>磨</span><span>友</span><span>が</span><span>丘</span></div>
<div class="n wr" style="top:1028px"><span>北</span><span>条</span></div>
<div class="n wr" style="top:1063px"><span>相</span><span>生</span></div>
<div class="n wr" style="top:1115px"><span>須</span><span>磨</span><span>学</span><span>園</span></div>
<div class="n wr" style="top:1167px"><span>芦</span><span>屋</span><span>学</span><span>園</span></div>
<div class="n wr" style="top:1201px"><span>篠</span><span>山</span><span>産</span></div>
<div class="n wr" style="top:1236px"><span>鳴</span><span>尾</span></div>
<div class="n wr" style="top:1271px"><span>明</span><span>石</span><span>南</span></div>
<div class="n wr" style="top:1340px"><span>神</span><span>戸</span><span>龍</span><span>谷</span></div>
</body></html>
